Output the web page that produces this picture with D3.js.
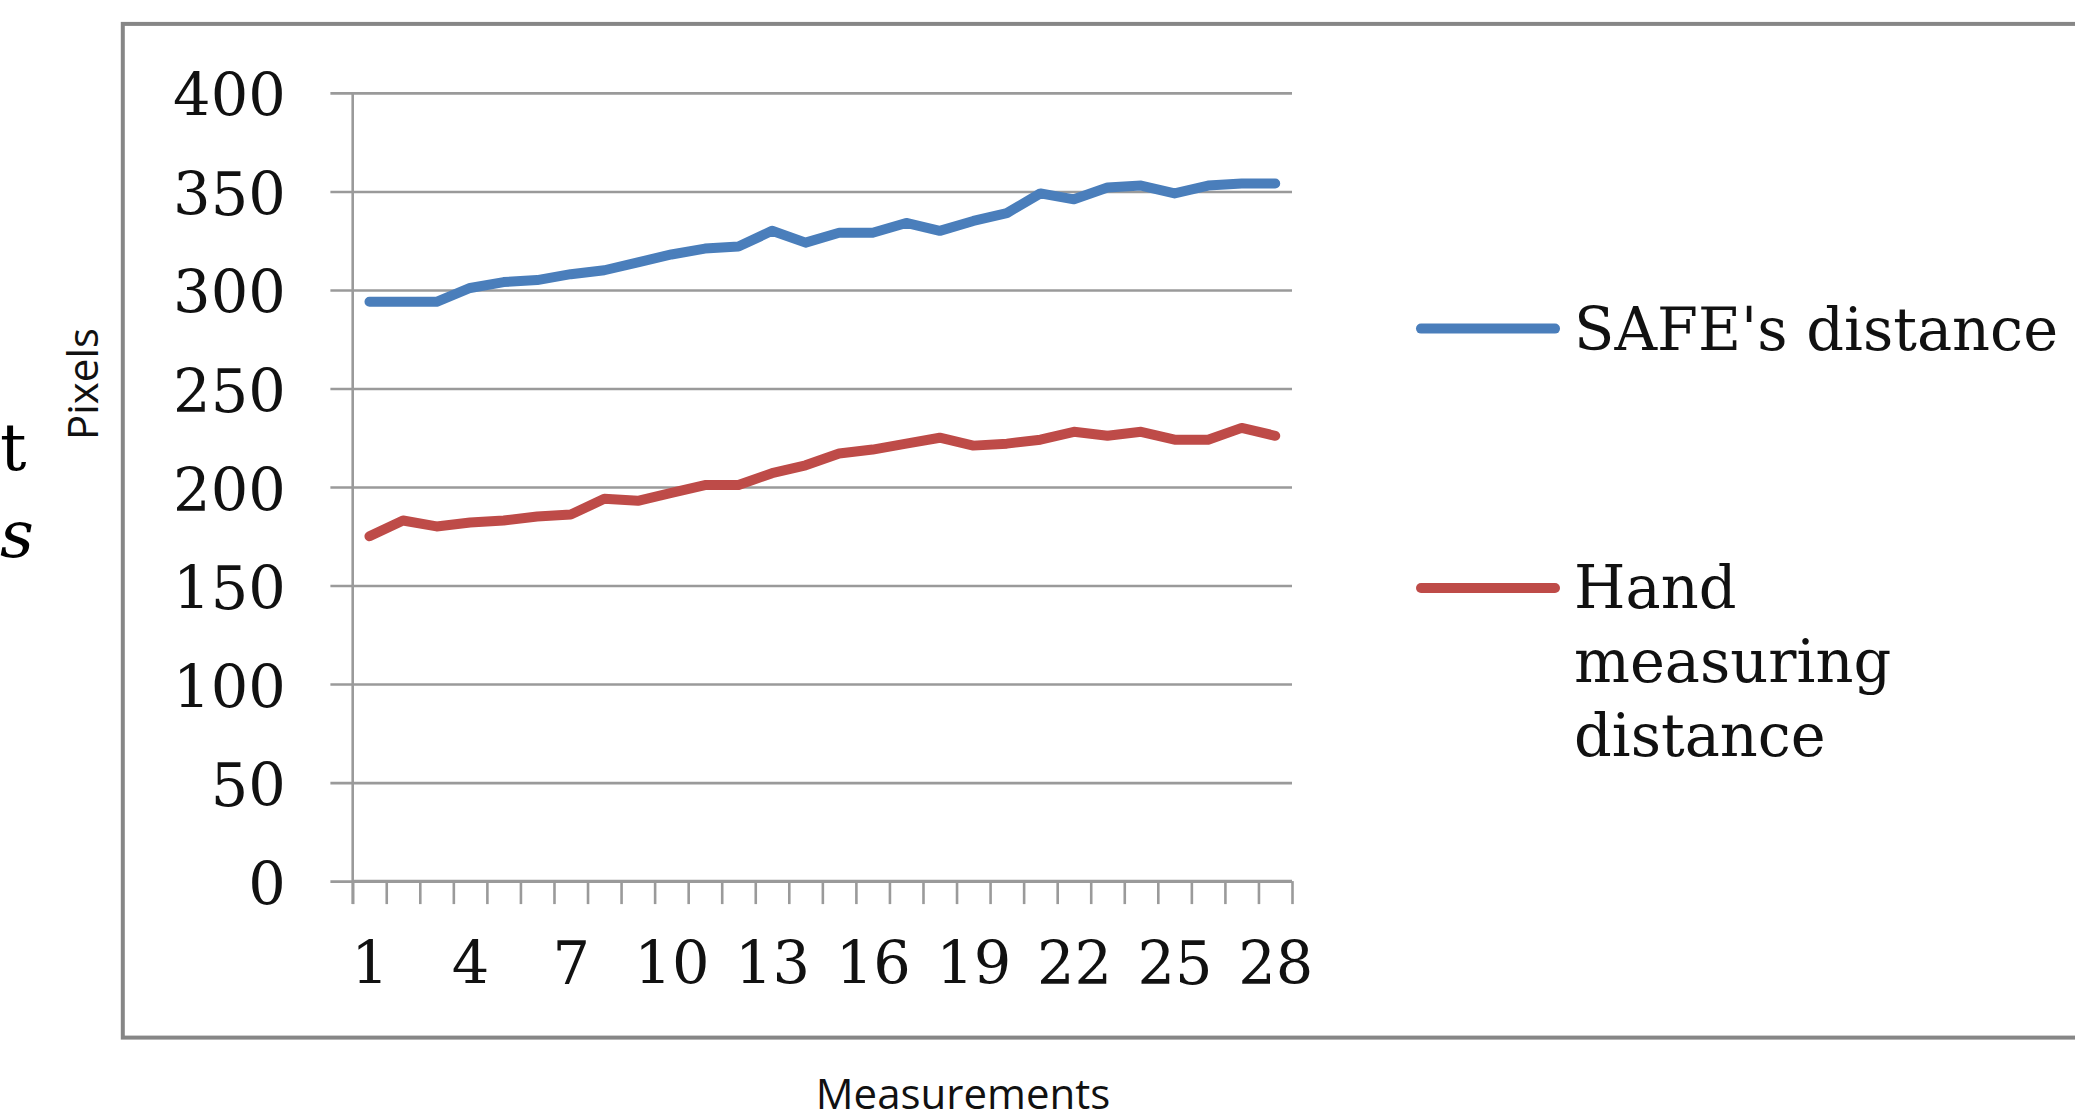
<!DOCTYPE html>
<html>
<head>
<meta charset="utf-8">
<script src="https://cdn.jsdelivr.net/npm/d3@7"></script>
<style>
  html, body { margin: 0; padding: 0; background: #ffffff; }
  svg { display: block; }
</style>
</head>
<body>
<svg id="chart" width="2075" height="1120"></svg>
<script>
// ---- data ----
const categories = d3.range(1, 29);
const safeDistance = [294, 294, 294, 301, 304, 305, 308, 310, 314, 318, 321, 322, 330, 324, 329, 329, 334, 330, 335, 339, 349, 346, 352, 353, 349, 353, 354, 354];
const handDistance = [175, 183, 180, 182, 183, 185, 186, 194, 193, 197, 201, 201, 207, 211, 217, 219, 222, 225, 221, 222, 224, 228, 226, 228, 224, 224, 230, 226];
const yTickValues = [0, 50, 100, 150, 200, 250, 300, 350, 400];
const xTickLabels = [1, 4, 7, 10, 13, 16, 19, 22, 25, 28];
const seriesNames = ["SAFE's distance", "Hand measuring distance"];
const seriesLegendLines = [["SAFE's distance"], ["Hand", "measuring", "distance"]];
const yTitle = "Pixels";
const xTitle = "Measurements";

// ---- layout ----
const svg = d3.select("#chart");
const plotLeft = 352.7, plotRight = 1292, plotTop = 92.9, plotBottom = 881.1;
const gridLeft = 330.4;
const colors = ["#4a7ebb", "#be4b48"];
const serif = "'DejaVu Serif', serif";
const sans = "'Open Sans', sans-serif";

const x = d3.scaleLinear().domain([0.5, 28.5]).range([plotLeft, plotRight]);
const y = d3.scaleLinear().domain([0, 400]).range([plotBottom, plotTop]);

// page fragments on left (surrounding document text)
svg.append("text").attr("x", 0).attr("y", 470).attr("font-family", serif)
  .attr("font-size", 66).attr("fill", "#000").text("t");
svg.append("text").attr("x", 0).attr("y", 557).attr("font-family", serif)
  .attr("font-style", "italic").attr("font-size", 66).attr("fill", "#000").text("s");

// chart frame
svg.append("rect")
  .attr("x", 122.8).attr("y", 23.9)
  .attr("width", 2200).attr("height", 1037.6 - 23.9)
  .attr("fill", "none").attr("stroke", "#868686").attr("stroke-width", 4);

// y axis with gridlines
const yAxis = d3.axisLeft(y)
  .tickValues(yTickValues)
  .tickSize(-(plotRight - gridLeft))
  .tickPadding(gridLeft - 285.7);
const gy = svg.append("g").attr("transform", `translate(${gridLeft},0)`).call(yAxis);
gy.select(".domain").remove();
gy.selectAll(".tick line").attr("stroke", "#9a9a9a").attr("stroke-width", 2.6);
gy.selectAll(".tick text")
  .attr("font-family", serif).attr("font-size", 59).attr("fill", "#111")
  .attr("dy", "0.39em");

// vertical axis line
svg.append("line")
  .attr("x1", plotLeft).attr("x2", plotLeft)
  .attr("y1", plotTop).attr("y2", plotBottom + 23)
  .attr("stroke", "#9a9a9a").attr("stroke-width", 2.6);

// x axis tick marks at category boundaries
const boundaries = d3.range(0, 29).map(k => k + 0.5);
const gxTicks = svg.append("g").attr("transform", `translate(0,${plotBottom})`)
  .call(d3.axisBottom(x).tickValues(boundaries).tickSize(23).tickFormat(""));
gxTicks.select(".domain").attr("stroke", "#9a9a9a").attr("stroke-width", 2.6)
  .attr("d", `M${plotLeft},0H${plotRight}`);
gxTicks.selectAll(".tick line").attr("stroke", "#9a9a9a").attr("stroke-width", 2.6);

// x axis labels
const gxLabels = svg.append("g").attr("transform", `translate(0,${plotBottom})`)
  .call(d3.axisBottom(x).tickValues(xTickLabels).tickSize(0).tickPadding(61));
gxLabels.select(".domain").remove();
gxLabels.selectAll(".tick text")
  .attr("font-family", serif).attr("font-size", 59).attr("fill", "#111");

// lines
const lineGen = d3.line().x((d, i) => x(categories[i])).y(d => y(d));
[safeDistance, handDistance].forEach((vals, si) => {
  svg.append("path")
    .datum(vals)
    .attr("d", lineGen)
    .attr("fill", "none")
    .attr("stroke", colors[si])
    .attr("stroke-width", 10)
    .attr("stroke-linejoin", "round")
    .attr("stroke-linecap", "round");
});

// legend
const legendY = [328.6, 588];
const legendTextFirstBaseline = [350, 608.4];
seriesNames.forEach((name, si) => {
  svg.append("line")
    .attr("x1", 1421).attr("x2", 1555)
    .attr("y1", legendY[si]).attr("y2", legendY[si])
    .attr("stroke", colors[si]).attr("stroke-width", 10)
    .attr("stroke-linecap", "round");
  const t = svg.append("text")
    .attr("font-family", serif).attr("font-size", 59).attr("fill", "#111");
  seriesLegendLines[si].forEach((ln, li) => {
    t.append("tspan").attr("x", 1574).attr("y", legendTextFirstBaseline[si] + li * 74).text(ln);
  });
});

// axis titles
svg.append("text")
  .attr("transform", "translate(98,384) rotate(-90)")
  .attr("text-anchor", "middle")
  .attr("font-family", sans).attr("font-size", 42).attr("fill", "#111")
  .text(yTitle);
svg.append("text")
  .attr("x", 963).attr("y", 1109)
  .attr("text-anchor", "middle")
  .attr("font-family", sans).attr("font-size", 42).attr("fill", "#111")
  .text(xTitle);
</script>
</body>
</html>
